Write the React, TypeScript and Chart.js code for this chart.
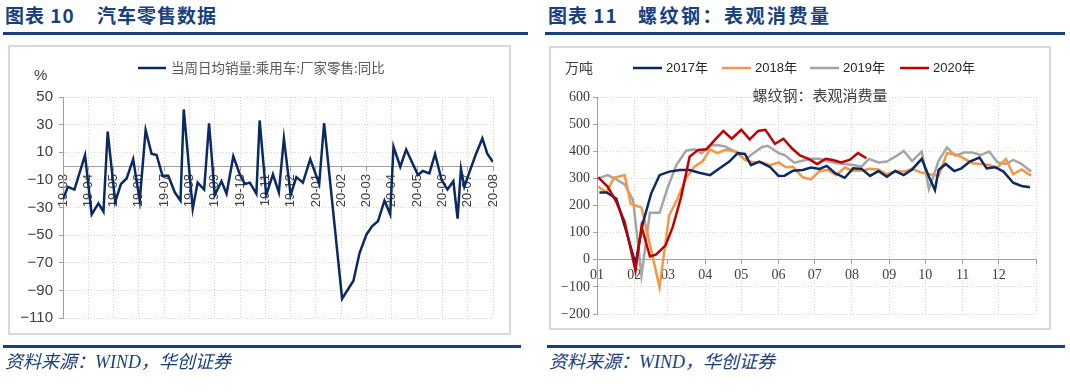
import React, { useEffect, useRef } from 'react';
import { Chart, registerables } from 'chart.js';

Chart.register(...registerables);

// ---------------- Left chart data: 当周日均销量:乘用车:厂家零售:同比 (%) ----------------
const retailMonths = [
  '19-03', '19-04', '19-05', '19-06', '19-07', '19-08', '19-09', '19-10', '19-11',
  '19-12', '20-01', '20-02', '20-03', '20-04', '20-05', '20-06', '20-07', '20-08',
];
const retailDates = [
  '2019-03-01', '2019-03-07', '2019-03-15', '2019-03-28', '2019-04-05', '2019-04-13', '2019-04-19', '2019-04-24',
  '2019-05-03', '2019-05-10', '2019-05-17', '2019-05-25', '2019-06-02', '2019-06-09', '2019-06-16', '2019-06-22',
  '2019-06-29', '2019-07-06', '2019-07-14', '2019-07-21', '2019-07-25', '2019-08-05', '2019-08-11', '2019-08-19',
  '2019-08-25', '2019-09-01', '2019-09-09', '2019-09-15', '2019-09-23', '2019-10-01', '2019-10-07', '2019-10-13',
  '2019-10-21', '2019-10-25', '2019-11-02', '2019-11-10', '2019-11-17', '2019-11-23', '2019-12-01', '2019-12-08',
  '2019-12-16', '2019-12-25', '2020-01-05', '2020-01-11', '2020-02-02', '2020-02-15', '2020-02-22', '2020-03-01',
  '2020-03-08', '2020-03-15', '2020-03-23', '2020-03-30', '2020-04-03', '2020-04-11', '2020-04-18', '2020-05-02',
  '2020-05-08', '2020-05-16', '2020-05-23', '2020-05-31', '2020-06-07', '2020-06-14', '2020-06-19', '2020-06-23',
  '2020-06-27', '2020-07-03', '2020-07-11', '2020-07-19', '2020-07-25', '2020-08-01',
];
const retailYoY = [
  -24, -15, -17, 8, -35, -27, -33, 25,
  -26, -13, -9, 5, -25, 26, 9, 8,
  -7, -7, -19, -25, 41, -31, -12, -17,
  31, -21, -11, -20, 7, -6.5, -13, -12,
  -20, 33, -21, -6, -19, 20, -21, -8,
  -12, 5, -13, 31, -96, -83, -63, -49.5,
  -43.5, -40, -25, -35, 14, -0.5, 12, -6.5,
  -3.6, -5.3, 8.7, -10, -17, -11, -38, -2,
  -15, -4.6, 8.5, 20, 9, 3,
];
const retailLegend = '当周日均销量:乘用车:厂家零售:同比';

// ---------------- Right chart data: 螺纹钢表观消费量 (万吨) ----------------
const steelMonthLabels = ['01', '02', '03', '04', '05', '06', '07', '08', '09', '10', '11', '12'];
const steelYears = ['2017年', '2018年', '2019年', '2020年'];

const dates2017 = [
  '01-03', '01-09', '01-17', '01-25', '02-02', '02-08', '02-15', '02-22', '03-02', '03-11', '03-19', '03-27',
  '04-05', '04-13', '04-21', '04-28', '05-04', '05-09', '05-16', '05-25', '06-01', '06-06', '06-13', '06-21',
  '06-28', '07-05', '07-11', '07-18', '07-26', '08-02', '08-09', '08-16', '08-23', '08-30', '09-06', '09-13',
  '09-20', '09-28', '10-04', '10-09', '10-12', '10-18', '10-25', '10-31', '11-07', '11-15', '11-21', '11-28',
  '12-05', '12-13', '12-20', '12-27',
];
const steel2017 = [
  248, 248, 226, 110, -15, 133, 244, 312, 325, 331, 331, 321,
  312, 337, 362, 393, 390, 349, 362, 341, 309, 310, 328, 331,
  340, 335, 346, 319, 302, 337, 335, 309, 327, 306, 327, 312,
  333, 372, 306, 257, 331, 353, 327, 337, 362, 377, 337, 341,
  325, 284, 272, 267,
];

const dates2018 = [
  '01-02', '01-09', '01-15', '01-24', '01-29', '02-07', '02-22', '03-02', '03-09', '03-16', '03-23', '03-30',
  '04-05', '04-11', '04-18', '04-27', '05-04', '05-11', '05-18', '05-25', '06-01', '06-07', '06-13', '06-21',
  '06-28', '07-05', '07-12', '07-19', '07-26', '08-02', '08-09', '08-16', '08-23', '08-30', '09-06', '09-13',
  '09-20', '09-27', '10-04', '10-12', '10-19', '10-26', '11-02', '11-09', '11-16', '11-23', '11-30', '12-07',
  '12-13', '12-20', '12-28',
];
const steel2018 = [
  269, 248, 302, 312, 207, 192, -101, 164, 226, 300, 343, 364,
  407, 393, 405, 399, 368, 359, 359, 349, 359, 341, 343, 304,
  296, 327, 331, 312, 340, 328, 328, 335, 333, 315, 327, 325,
  335, 322, 315, 309, 393, 389, 374, 356, 353, 349, 340, 372,
  315, 333, 310,
];

const dates2019 = [
  '01-02', '01-10', '01-17', '01-24', '01-31', '02-07', '02-14', '02-22', '03-01', '03-08', '03-16', '03-23',
  '03-29', '04-05', '04-11', '04-18', '04-27', '05-04', '05-11', '05-18', '05-23', '06-01', '06-06', '06-14',
  '06-21', '06-28', '07-05', '07-11', '07-19', '07-26', '08-02', '08-09', '08-15', '08-23', '08-30', '09-06',
  '09-13', '09-20', '09-28', '10-04', '10-12', '10-19', '10-26', '11-02', '11-09', '11-16', '11-23', '11-30',
  '12-07', '12-13', '12-20', '12-28',
];
const steel2019 = [
  300, 312, 296, 278, 220, -58, 173, 173, 269, 349, 402, 407,
  393, 421, 423, 417, 396, 368, 393, 415, 420, 393, 386, 358,
  365, 372, 372, 365, 356, 353, 349, 343, 372, 359, 362, 380,
  401, 364, 399, 260, 365, 414, 383, 395, 395, 386, 399, 359,
  353, 368, 353, 325,
];

const dates2020 = [
  '01-02', '01-10', '01-17', '01-24', '02-02', '02-07', '02-14', '02-19', '02-27', '03-05', '03-12', '03-19',
  '03-26', '04-02', '04-09', '04-16', '04-23', '05-01', '05-08', '05-15', '05-21', '05-29', '06-05', '06-12',
  '06-19', '06-26', '07-03', '07-10', '07-16', '07-23', '07-30', '08-06', '08-13',
];
const steel2020 = [
  304, 269, 214, 140, -40, 123, 12, 19, 53, 121, 232, 380,
  405, 407, 442, 475, 446, 479, 444, 475, 479, 427, 446, 411,
  384, 372, 353, 372, 368, 359, 368, 393, 374,
];
const steelTitle = '螺纹钢：表观消费量';
const steelUnit = '万吨';

// ---------------- helpers ----------------
const NAVY = '#0B2A63';
const ORANGE = '#F79646';
const GREY = '#A5A5A5';
const RED = '#C00000';
const GRID = '#DCD8C0';
const AXIS = '#A0A0A0';
const TICKTXT = '#404040';

const monthPos = (s: string) => {
  const [y, m, d] = s.split('-').map(Number);
  const dim = new Date(y, m, 0).getDate();
  return (y - 2019) * 12 + (m - 3) + (d - 1) / dim;
};
const CUM = [0, 31, 59, 90, 120, 151, 181, 212, 243, 273, 304, 334];
const doy = (s: string) => {
  const [m, d] = s.split('-').map(Number);
  return CUM[m - 1] + d - 1;
};
const minus = (v: number | string) => String(v).replace('-', '−');

const leftDecor = {
  id: 'leftDecor',
  afterDraw(chart: any) {
    const ctx = chart.ctx;
    ctx.save();
    ctx.fillStyle = TICKTXT;
    ctx.font = '15px "Liberation Sans", Arial, sans-serif';
    ctx.textAlign = 'left';
    ctx.textBaseline = 'middle';
    ctx.fillText('%', 26, 31);
    // legend
    ctx.strokeStyle = NAVY;
    ctx.lineWidth = 2.5;
    ctx.beginPath();
    ctx.moveTo(130, 23);
    ctx.lineTo(158, 23);
    ctx.stroke();
    ctx.fillStyle = '#595959';
    ctx.font = '13.5px "Noto Sans CJK SC", sans-serif';
    ctx.fillText(retailLegend, 163, 23);
    ctx.restore();
  },
};

const rightDecor = {
  id: 'rightDecor',
  afterDraw(chart: any) {
    const ctx = chart.ctx;
    ctx.save();
    ctx.textBaseline = 'middle';
    ctx.textAlign = 'left';
    ctx.fillStyle = TICKTXT;
    ctx.font = '14px "Noto Sans CJK SC", sans-serif';
    ctx.fillText(steelUnit, 16, 22);
    const cols = [NAVY, ORANGE, GREY, RED];
    const xs = [84, 173, 261, 351];
    ctx.font = '13px "Liberation Sans", "Noto Sans CJK SC", sans-serif';
    steelYears.forEach((t, i) => {
      ctx.strokeStyle = cols[i];
      ctx.lineWidth = 2.5;
      ctx.beginPath();
      ctx.moveTo(xs[i], 22);
      ctx.lineTo(xs[i] + 29, 22);
      ctx.stroke();
      ctx.fillStyle = '#262626';
      ctx.fillText(t, xs[i] + 33, 22);
    });
    ctx.fillStyle = '#404040';
    ctx.font = '15px "Noto Sans CJK SC", sans-serif';
    ctx.textAlign = 'center';
    ctx.fillText(steelTitle, 271, 49);
    ctx.restore();
  },
};

function LeftChart() {
  const ref = useRef<HTMLCanvasElement | null>(null);
  useEffect(() => {
    if (!ref.current) return;
    const chart = new Chart(ref.current, {
      type: 'line',
      data: {
        datasets: [
          {
            data: retailDates.map((d, i) => ({ x: monthPos(d), y: retailYoY[i] })),
            borderColor: NAVY,
            borderWidth: 2.5,
            pointRadius: 0,
            tension: 0,
          },
        ],
      },
      options: {
        responsive: false,
        animation: false,
        events: [],
        layout: { padding: { left: 0, top: 52, right: 18, bottom: 17 } },
        plugins: { legend: { display: false }, tooltip: { enabled: false } },
        scales: {
          x: {
            type: 'linear',
            position: { y: 0 } as any,
            min: 0,
            max: 17,
            ticks: {
              stepSize: 1,
              autoSkip: false,
              minRotation: 90,
              maxRotation: 90,
              padding: 4,
              color: TICKTXT,
              font: { family: '"Liberation Sans", Arial, sans-serif', size: 13 },
              callback: (v: any) => retailMonths[Math.round(v)] ?? '',
            },
            grid: { color: GRID, lineWidth: 1, tickLength: 4, tickColor: AXIS, tickBorderDash: [] },
            border: { display: true, color: AXIS, width: 1, dash: [1, 2] },
            afterFit: (s: any) => {
              s.paddingLeft = 0;
              s.paddingRight = 0;
            },
          },
          y: {
            type: 'linear',
            min: -110,
            max: 50,
            ticks: {
              stepSize: 20,
              padding: 6,
              color: TICKTXT,
              font: { family: '"Liberation Sans", Arial, sans-serif', size: 15 },
              callback: (v: any) => minus(v),
            },
            grid: { color: GRID, lineWidth: 1, tickLength: 4, tickColor: AXIS, tickBorderDash: [] },
            border: { display: true, color: AXIS, width: 1, dash: [1, 2] },
            afterFit: (s: any) => {
              s.width = 55;
            },
          },
        },
      } as any,
      plugins: [leftDecor],
    });
    return () => chart.destroy();
  }, []);
  return <canvas ref={ref} width={503} height={290} style={{ width: 503, height: 290, display: 'block' }} />;
}

function RightChart() {
  const ref = useRef<HTMLCanvasElement | null>(null);
  useEffect(() => {
    if (!ref.current) return;
    const mk = (dates: string[], vals: number[], color: string, order: number) => ({
      data: dates.map((d, i) => ({ x: doy(d), y: vals[i] })),
      borderColor: color,
      borderWidth: 2.5,
      pointRadius: 0,
      tension: 0,
      order,
    });
    const tickDays = [...CUM, 365];
    const chart = new Chart(ref.current, {
      type: 'line',
      data: {
        datasets: [
          mk(dates2017, steel2017, NAVY, 1),
          mk(dates2018, steel2018, ORANGE, 2),
          mk(dates2019, steel2019, GREY, 3),
          mk(dates2020, steel2020, RED, 0),
        ],
      },
      options: {
        responsive: false,
        animation: false,
        events: [],
        layout: { padding: { left: 0, top: 51, right: 15, bottom: 16 } },
        plugins: { legend: { display: false }, tooltip: { enabled: false } },
        scales: {
          x: {
            type: 'linear',
            position: { y: 0 } as any,
            min: 0,
            max: 365,
            afterBuildTicks: (s: any) => {
              s.ticks = tickDays.map((v) => ({ value: v }));
            },
            ticks: {
              autoSkip: false,
              maxRotation: 0,
              minRotation: 0,
              padding: 3,
              color: TICKTXT,
              font: { family: '"Liberation Serif", "Times New Roman", serif', size: 14 },
              callback: (v: any) => {
                const i = CUM.indexOf(v);
                return i >= 0 ? steelMonthLabels[i] : '';
              },
            },
            grid: { color: GRID, lineWidth: 1, tickLength: 4, tickColor: AXIS, tickBorderDash: [] },
            border: { display: true, color: AXIS, width: 1, dash: [1, 2] },
            afterFit: (s: any) => {
              s.paddingLeft = 0;
              s.paddingRight = 0;
            },
          },
          y: {
            type: 'linear',
            min: -200,
            max: 600,
            ticks: {
              stepSize: 100,
              padding: 3,
              color: TICKTXT,
              font: { family: '"Liberation Serif", "Times New Roman", serif', size: 14 },
              callback: (v: any) => minus(v),
            },
            grid: { color: GRID, lineWidth: 1, tickLength: 4, tickColor: AXIS, tickBorderDash: [] },
            border: { display: true, color: AXIS, width: 1, dash: [1, 2] },
            afterFit: (s: any) => {
              s.width = 48;
            },
          },
        },
      } as any,
      plugins: [rightDecor],
    });
    return () => chart.destroy();
  }, []);
  return <canvas ref={ref} width={502} height={284} style={{ width: 502, height: 284, display: 'block' }} />;
}

const BLUE = '#17407C';
const titleFont: React.CSSProperties = {
  position: 'absolute',
  fontFamily: '"Noto Sans CJK SC", sans-serif',
  fontWeight: 700,
  fontSize: 19,
  lineHeight: '22px',
  color: BLUE,
  whiteSpace: 'pre',
  letterSpacing: 1,
};
const footFont: React.CSSProperties = {
  position: 'absolute',
  fontFamily: '"Liberation Serif", "Noto Sans CJK SC", serif',
  fontStyle: 'italic',
  fontSize: 18,
  lineHeight: '20px',
  color: BLUE,
  whiteSpace: 'pre',
};

export default function App() {
  return (
    <div style={{ position: 'absolute', left: 0, top: 0, width: 1070, height: 392, background: '#fff', overflow: 'hidden' }}>
      {/* left panel */}
      <div style={{ ...titleFont, left: 5, top: 4 }}>图表 10</div>
      <div style={{ ...titleFont, left: 97, top: 4 }}>汽车零售数据</div>
      <div style={{ position: 'absolute', left: 3, top: 32, width: 525, height: 3, background: BLUE }} />
      <div style={{ position: 'absolute', left: 8, top: 45, width: 503, height: 290 }}>
        <LeftChart />
        <div style={{ position: 'absolute', inset: 0, border: '2px solid #D9D9D9' }} />
      </div>
      <div style={{ position: 'absolute', left: 3, top: 345, width: 518, height: 3, background: BLUE }} />
      <div style={{ ...footFont, left: 5, top: 352 }}>资料来源：WIND，华创证券</div>

      {/* right panel */}
      <div style={{ ...titleFont, left: 548, top: 4 }}>图表 11</div>
      <div style={{ ...titleFont, left: 638, top: 4, letterSpacing: 2.5 }}>螺纹钢：表观消费量</div>
      <div style={{ position: 'absolute', left: 545, top: 32, width: 520, height: 3, background: BLUE }} />
      <div style={{ position: 'absolute', left: 549, top: 46, width: 502, height: 284 }}>
        <RightChart />
        <div style={{ position: 'absolute', inset: 0, border: '2px solid #D9D9D9' }} />
      </div>
      <div style={{ position: 'absolute', left: 547, top: 345, width: 518, height: 3, background: BLUE }} />
      <div style={{ ...footFont, left: 549, top: 352 }}>资料来源：WIND，华创证券</div>
    </div>
  );
}
